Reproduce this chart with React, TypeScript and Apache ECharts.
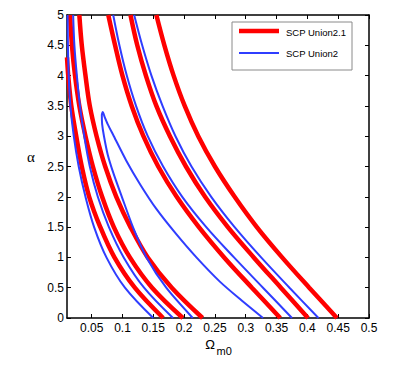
import React, { useEffect, useRef } from "react";
import * as echarts from "echarts";

// Tick values
const xTicks = [0.05, 0.1, 0.15, 0.2, 0.25, 0.3, 0.35, 0.4, 0.45, 0.5];

// Curves: [Omega_m0, alpha]
// SCP Union2.1 (red)
const red3Left = [[0.166, 0], [0.12, 0.5], [0.087, 1.0], [0.064, 1.5], [0.046, 2.0], [0.034, 2.5], [0.025, 3.0], [0.017, 3.5], [0.012, 4.0], [0.01, 4.3]];
const red2Left = [[0.198, 0], [0.148, 0.5], [0.112, 1.0], [0.086, 1.5], [0.067, 2.0], [0.052, 2.5], [0.04, 3.0], [0.03, 3.5], [0.023, 4.0], [0.018, 4.5], [0.015, 5]];
const red1Left = [[0.23, 0], [0.18, 0.5], [0.141, 1.0], [0.113, 1.5], [0.09, 2.0], [0.072, 2.5], [0.058, 3.0], [0.047, 3.5], [0.04, 4.0], [0.034, 4.5], [0.03, 5]];
const red1Right = [[0.356, 0], [0.31, 0.5], [0.265, 1.0], [0.224, 1.5], [0.188, 2.0], [0.158, 2.5], [0.134, 3.0], [0.115, 3.5], [0.1, 4.0], [0.088, 4.5], [0.077, 5]];
const red2Right = [[0.401, 0], [0.357, 0.5], [0.313, 1.0], [0.271, 1.5], [0.234, 2.0], [0.203, 2.5], [0.177, 3.0], [0.155, 3.5], [0.138, 4.0], [0.124, 4.5], [0.113, 5]];
const red3Right = [[0.448, 0], [0.403, 0.5], [0.359, 1.0], [0.318, 1.5], [0.282, 2.0], [0.25, 2.5], [0.223, 3.0], [0.201, 3.5], [0.183, 4.0], [0.168, 4.5], [0.155, 5]];

// SCP Union2 (blue)
const blue3Left = [[0.15, 0], [0.104, 0.5], [0.074, 1.0], [0.054, 1.5], [0.04, 2.0], [0.029, 2.5], [0.021, 3.0], [0.0155, 3.5], [0.0128, 4.0], [0.0115, 4.5], [0.011, 5]];
const blue2Left = [[0.182, 0], [0.135, 0.5], [0.102, 1.0], [0.078, 1.5], [0.06, 2.0], [0.047, 2.5], [0.038, 3.0], [0.031, 3.5], [0.026, 4.0], [0.022, 4.5], [0.02, 5]];
const blue1Closed = [
  [0.214, 0], [0.171, 0.5], [0.139, 1.0], [0.117, 1.5], [0.099, 2.0], [0.085, 2.4], [0.076, 2.7], [0.07, 3.0], [0.067, 3.2], [0.0665, 3.35], [0.068, 3.4],
  [0.071, 3.32], [0.076, 3.2], [0.086, 3.0], [0.106, 2.6], [0.129, 2.2], [0.155, 1.8], [0.186, 1.4], [0.22, 1.0], [0.258, 0.6], [0.292, 0.3], [0.328, 0],
];
const blue2Right = [[0.375, 0], [0.328, 0.5], [0.281, 1.0], [0.236, 1.5], [0.197, 2.0], [0.166, 2.5], [0.141, 3.0], [0.122, 3.5], [0.107, 4.0], [0.095, 4.5], [0.085, 5]];
const blue3Right = [[0.418, 0], [0.371, 0.5], [0.325, 1.0], [0.282, 1.5], [0.244, 2.0], [0.212, 2.5], [0.186, 3.0], [0.165, 3.5], [0.147, 4.0], [0.132, 4.5], [0.119, 5]];

const RED = "#ff0000";
const BLUE = "#2f3dff";

const redCurves = [red3Left, red2Left, red1Left, red1Right, red2Right, red3Right];
const blueCurves = [blue3Left, blue2Left, blue1Closed, blue2Right, blue3Right];

export default function App() {
  const ref = useRef<HTMLDivElement>(null);
  useEffect(() => {
    if (!ref.current) return;
    const chart = echarts.init(ref.current, null, { renderer: "svg" });
    const font = "'Liberation Sans', Arial, Helvetica, sans-serif";
    const mkSeries = (data: number[][], color: string, width: number, name: string, smooth: number) => ({
      type: "line",
      name,
      data,
      symbol: "none",
      silent: true,
      clip: true,
      smooth,
      lineStyle: { color, width },
      xAxisIndex: 0,
      yAxisIndex: 0,
    });
    const series = [
      ...redCurves.map((d) => mkSeries(d, RED, 4.5, "SCP Union2.1", 0.35)),
      ...blueCurves.map((d) => mkSeries(d, BLUE, 2, "SCP Union2", d === blue1Closed ? 0.25 : 0.35)),
    ];
    const axisLine = { show: true, onZero: false, lineStyle: { color: "#000", width: 1.5 } };
    const tick = { show: true, inside: true, length: 4, lineStyle: { color: "#000", width: 1 } };
    chart.setOption({
      animation: false,
      backgroundColor: "#fff",
      grid: { left: 67, right: 42, top: 15, bottom: 56, containLabel: false },
      xAxis: [
        {
          type: "value", min: 0.01, max: 0.5, position: "bottom",
          axisLine,
          axisTick: { ...tick, customValues: xTicks },
          axisLabel: { show: true, customValues: xTicks, formatter: (v: number) => String(v), color: "#000", fontSize: 12, fontFamily: font, margin: 4 },
          splitLine: { show: false },
        },
        {
          type: "value", min: 0.01, max: 0.5, position: "top",
          axisLine,
          axisTick: { ...tick, customValues: xTicks },
          axisLabel: { show: false },
          splitLine: { show: false },
        },
      ],
      yAxis: [
        {
          type: "value", min: 0, max: 5, interval: 0.5, position: "left",
          axisLine,
          axisTick: tick,
          axisLabel: { show: true, formatter: (v: number) => String(v), color: "#000", fontSize: 12, fontFamily: font, margin: 3 },
          splitLine: { show: false },
        },
        {
          type: "value", min: 0, max: 5, interval: 0.5, position: "right",
          axisLine,
          axisTick: tick,
          axisLabel: { show: false },
          splitLine: { show: false },
        },
      ],
      series,
      graphic: [
        { type: "rect", shape: { x: 232, y: 22, width: 120, height: 48 }, style: { fill: "#fff", stroke: "#8a8a8a", lineWidth: 1 }, z: 100 },
        { type: "line", shape: { x1: 239, y1: 31, x2: 279, y2: 31 }, style: { stroke: RED, lineWidth: 4.5 }, z: 101 },
        { type: "text", x: 286, y: 32, style: { text: "SCP Union2.1", fill: "#000", font: `9.5px ${font}`, verticalAlign: "middle" }, z: 101 },
        { type: "line", shape: { x1: 239, y1: 53, x2: 279, y2: 53 }, style: { stroke: BLUE, lineWidth: 2 }, z: 101 },
        { type: "text", x: 286, y: 53.5, style: { text: "SCP Union2", fill: "#000", font: `9.5px ${font}`, verticalAlign: "middle" }, z: 101 },
        { type: "text", x: 31, y: 157, style: { text: "α", fill: "#000", font: `15px 'Liberation Serif', serif`, align: "center", verticalAlign: "middle" }, z: 101 },
        { type: "text", x: 210, y: 344, style: { text: "Ω", fill: "#000", font: `13px ${font}`, align: "center", verticalAlign: "middle" }, z: 101 },
        { type: "text", x: 216.5, y: 351, style: { text: "m0", fill: "#000", font: `11px ${font}`, align: "left", verticalAlign: "middle" }, z: 101 },
      ],
    });
    return () => chart.dispose();
  }, []);
  return <div ref={ref} style={{ width: 411, height: 374, margin: -8 }} />;
}
